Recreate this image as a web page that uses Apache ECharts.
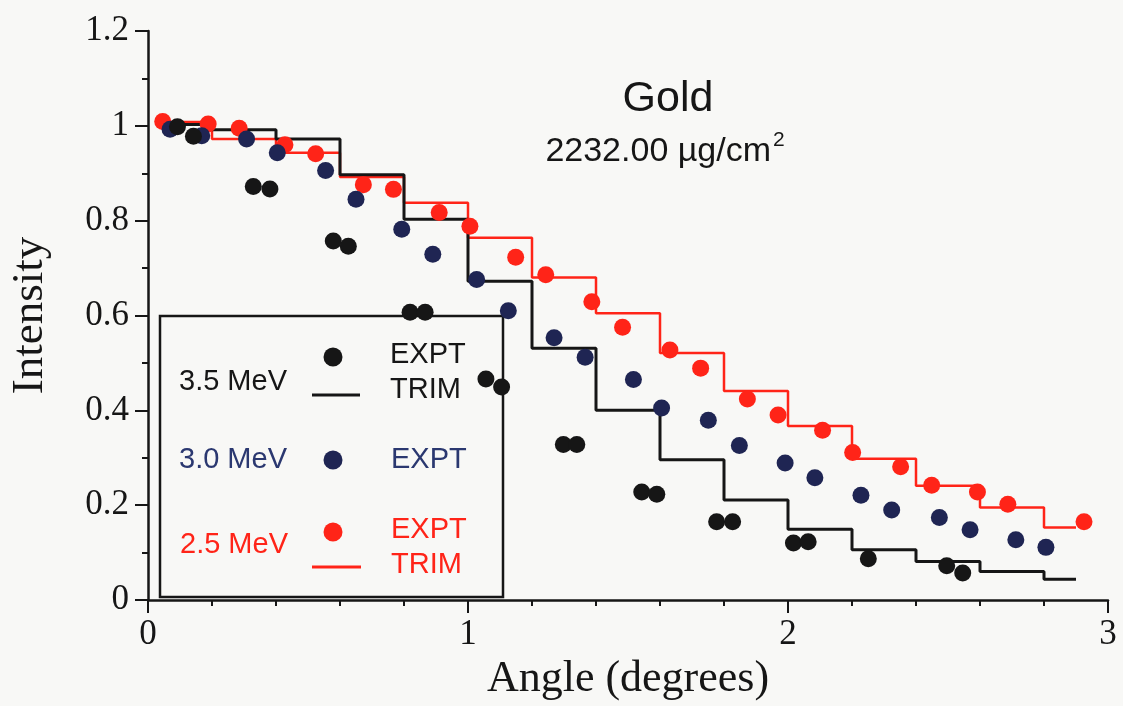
<!DOCTYPE html>
<html>
<head>
<meta charset="utf-8">
<script src="https://cdn.jsdelivr.net/npm/echarts@6/dist/echarts.min.js"></script>
<style>
html,body{margin:0;padding:0;background:#f8f8f6;}
#chart{width:1123px;height:706px;}
</style>
</head>
<body>
<div id="chart"></div>
<script>
// ---- data ----
// 3.5 MeV experiment
const expt35Angle = [0.092, 0.142, 0.329, 0.381, 0.579, 0.626, 0.819, 0.866, 1.056, 1.105, 1.298, 1.340, 1.543, 1.590, 1.777, 1.827, 2.017, 2.063, 2.251, 2.496, 2.546];
const expt35Int   = [0.998, 0.978, 0.872, 0.867, 0.757, 0.746, 0.607, 0.607, 0.466, 0.449, 0.328, 0.328, 0.228, 0.223, 0.165, 0.165, 0.120, 0.123, 0.087, 0.072, 0.057];
// 3.0 MeV experiment
const expt30Angle = [0.069, 0.168, 0.308, 0.404, 0.555, 0.650, 0.793, 0.890, 1.027, 1.126, 1.269, 1.366, 1.517, 1.605, 1.751, 1.848, 1.991, 2.084, 2.228, 2.324, 2.473, 2.569, 2.712, 2.806];
const expt30Int   = [0.993, 0.979, 0.972, 0.943, 0.906, 0.845, 0.782, 0.729, 0.676, 0.610, 0.553, 0.512, 0.465, 0.405, 0.379, 0.326, 0.289, 0.258, 0.221, 0.190, 0.174, 0.148, 0.127, 0.111];
// 2.5 MeV experiment
const expt25Angle = [0.046, 0.188, 0.285, 0.428, 0.524, 0.673, 0.767, 0.910, 1.006, 1.149, 1.243, 1.387, 1.483, 1.631, 1.727, 1.873, 1.969, 2.108, 2.202, 2.352, 2.449, 2.592, 2.687, 2.925];
const expt25Int   = [1.009, 1.004, 0.995, 0.960, 0.941, 0.876, 0.866, 0.817, 0.788, 0.723, 0.686, 0.629, 0.575, 0.527, 0.489, 0.424, 0.390, 0.358, 0.311, 0.281, 0.242, 0.228, 0.202, 0.165];
// TRIM histograms: bin edges and bin values
const trimEdges = [0.05, 0.2, 0.4, 0.6, 0.8, 1.0, 1.2, 1.4, 1.6, 1.8, 2.0, 2.2, 2.4, 2.6, 2.8, 2.9];
const trim35 = [1.003, 0.992, 0.972, 0.897, 0.803, 0.672, 0.531, 0.400, 0.296, 0.211, 0.149, 0.106, 0.081, 0.060, 0.044];
const trim25 = [1.008, 0.972, 0.943, 0.892, 0.838, 0.764, 0.680, 0.605, 0.521, 0.441, 0.367, 0.298, 0.241, 0.195, 0.153];
const xTicks = [0, 1, 2, 3];
const yTicks = [0, 0.2, 0.4, 0.6, 0.8, 1, 1.2];

const BLACK = '#161616', NAVY = '#1f2553', RED = '#ff2418';
const pairs = (xs, ys) => xs.map((x, i) => [x, ys[i]]);
const steps = (edges, vals) => edges.map((e, i) => [e, vals[Math.min(i, vals.length - 1)]]);

const serif = 'Liberation Serif';
const sans = 'Liberation Sans';

const chart = echarts.init(document.getElementById('chart'));
chart.setOption({
  backgroundColor: '#f8f8f6',
  animation: false,
  grid: { left: 148, right: 15, top: 31, bottom: 104, containLabel: false },
  xAxis: {
    type: 'value', min: xTicks[0], max: xTicks[xTicks.length - 1], interval: 1,
    name: 'Angle (degrees)', nameLocation: 'middle', nameGap: 57,
    nameTextStyle: { fontFamily: serif, fontSize: 44, color: BLACK },
    axisLine: { show: true, onZero: false, lineStyle: { color: BLACK, width: 2.5 } },
    axisTick: { show: true, inside: false, length: 13, lineStyle: { color: BLACK, width: 2 } },
    minorTick: { show: true, splitNumber: 5, length: 6, lineStyle: { color: BLACK, width: 2 } },
    axisLabel: { fontFamily: serif, fontSize: 35, color: BLACK, margin: 17 },
    splitLine: { show: false }
  },
  yAxis: {
    type: 'value', min: yTicks[0], max: yTicks[yTicks.length - 1], interval: 0.2,
    name: 'Intensity', nameLocation: 'middle', nameGap: 95, nameRotate: 90,
    nameTextStyle: { fontFamily: serif, fontSize: 45, color: BLACK },
    axisLine: { show: true, onZero: false, lineStyle: { color: BLACK, width: 2.5 } },
    axisTick: { show: true, inside: false, length: 13, lineStyle: { color: BLACK, width: 2 } },
    minorTick: { show: true, splitNumber: 2, length: 6, lineStyle: { color: BLACK, width: 2 } },
    axisLabel: { fontFamily: serif, fontSize: 35, color: BLACK, margin: 19 },
    splitLine: { show: false }
  },
  graphic: [
    { type: 'text', x: 668, y: 99, style: { text: 'Gold', fontFamily: sans, fontSize: 43, fill: BLACK, textAlign: 'center', textVerticalAlign: 'middle' } },
    { type: 'text', x: 771, y: 152, style: { text: '2232.00 µg/cm', fontFamily: sans, fontSize: 34, fill: BLACK, textAlign: 'right', textVerticalAlign: 'middle' } },
    { type: 'text', x: 773, y: 140, style: { text: '2', fontFamily: sans, fontSize: 21, fill: BLACK, textAlign: 'left', textVerticalAlign: 'middle' } },
    // legend box
    { type: 'rect', z: 1, shape: { x: 160, y: 316, width: 343, height: 281 }, style: { fill: '#f8f8f6', stroke: BLACK, lineWidth: 2.5 } },
    { type: 'text', z: 3, x: 179, y: 382, style: { text: '3.5 MeV', fontFamily: sans, fontSize: 29, fill: BLACK, textVerticalAlign: 'middle' } },
    { type: 'circle', z: 3, shape: { cx: 333, cy: 357, r: 9.5 }, style: { fill: BLACK } },
    { type: 'line', z: 3, shape: { x1: 312, y1: 395, x2: 360, y2: 395 }, style: { stroke: BLACK, lineWidth: 3 } },
    { type: 'text', z: 3, x: 390, y: 355, style: { text: 'EXPT', fontFamily: sans, fontSize: 29, fill: BLACK, textVerticalAlign: 'middle' } },
    { type: 'text', z: 3, x: 390, y: 390, style: { text: 'TRIM', fontFamily: sans, fontSize: 29, fill: BLACK, textVerticalAlign: 'middle' } },
    { type: 'text', z: 3, x: 179, y: 460, style: { text: '3.0 MeV', fontFamily: sans, fontSize: 29, fill: '#2b3870', textVerticalAlign: 'middle' } },
    { type: 'circle', z: 3, shape: { cx: 333, cy: 460, r: 9.5 }, style: { fill: NAVY } },
    { type: 'text', z: 3, x: 391, y: 460, style: { text: 'EXPT', fontFamily: sans, fontSize: 29, fill: '#2b3870', textVerticalAlign: 'middle' } },
    { type: 'text', z: 3, x: 180, y: 545, style: { text: '2.5 MeV', fontFamily: sans, fontSize: 29, fill: RED, textVerticalAlign: 'middle' } },
    { type: 'circle', z: 3, shape: { cx: 333, cy: 532, r: 9.5 }, style: { fill: RED } },
    { type: 'line', z: 3, shape: { x1: 312, y1: 567, x2: 361, y2: 567 }, style: { stroke: RED, lineWidth: 3 } },
    { type: 'text', z: 3, x: 391, y: 530, style: { text: 'EXPT', fontFamily: sans, fontSize: 29, fill: RED, textVerticalAlign: 'middle' } },
    { type: 'text', z: 3, x: 391, y: 565, style: { text: 'TRIM', fontFamily: sans, fontSize: 29, fill: RED, textVerticalAlign: 'middle' } }
  ],
  series: [
    { name: 'TRIM 2.5 MeV', type: 'line', step: 'end', showSymbol: false, symbol: 'none', data: steps(trimEdges, trim25), lineStyle: { color: RED, width: 2.5 }, z: 3 },
    { name: 'TRIM 3.5 MeV', type: 'line', step: 'end', showSymbol: false, symbol: 'none', data: steps(trimEdges, trim35), lineStyle: { color: BLACK, width: 3 }, z: 4 },
    { name: 'EXPT 2.5 MeV', type: 'scatter', symbol: 'circle', symbolSize: 17, data: pairs(expt25Angle, expt25Int), itemStyle: { color: RED, opacity: 1 }, z: 5 },
    { name: 'EXPT 3.0 MeV', type: 'scatter', symbol: 'circle', symbolSize: 17, data: pairs(expt30Angle, expt30Int), itemStyle: { color: NAVY, opacity: 1 }, z: 6 },
    { name: 'EXPT 3.5 MeV', type: 'scatter', symbol: 'circle', symbolSize: 17, data: pairs(expt35Angle, expt35Int), itemStyle: { color: BLACK, opacity: 1 }, z: 7 }
  ]
});
</script>
</body>
</html>
